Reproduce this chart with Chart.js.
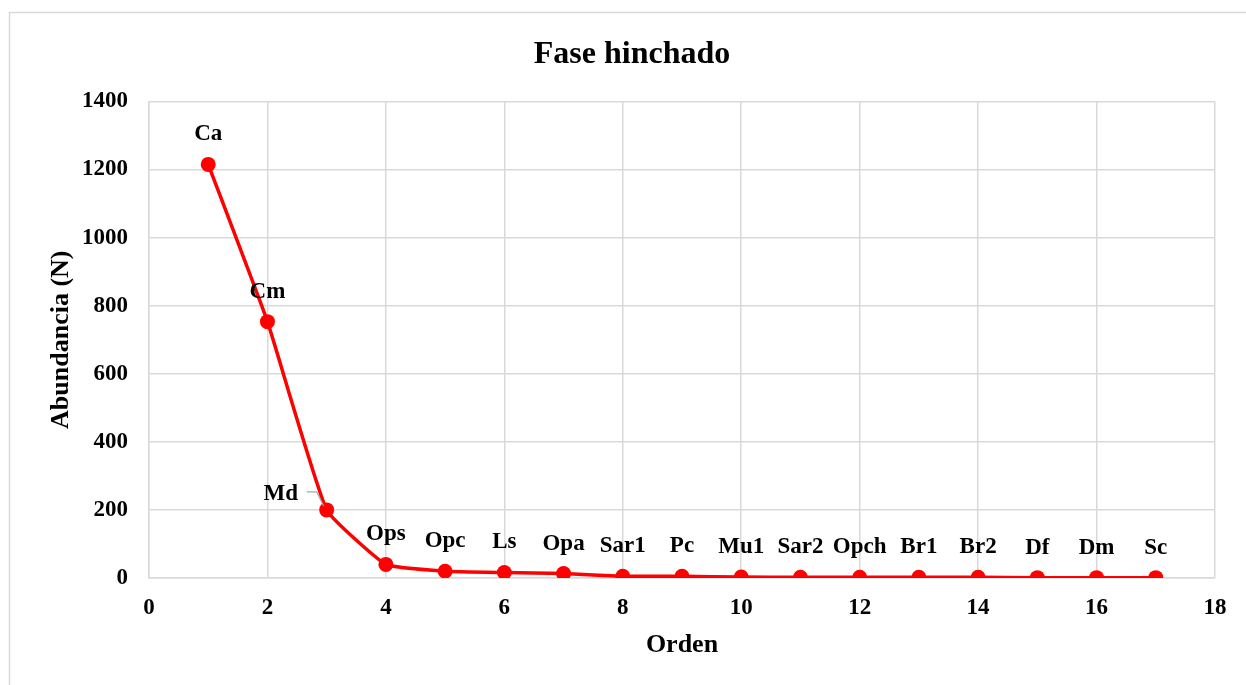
<!DOCTYPE html>
<html>
<head>
<meta charset="utf-8">
<script src="https://cdn.jsdelivr.net/npm/chart.js@4/dist/chart.umd.min.js"></script>
<style>
  html, body { margin: 0; padding: 0; background: #ffffff; }
  #wrap { width: 1246px; height: 685px; position: relative; }
</style>
</head>
<body>
<div id="wrap"><canvas id="grafico"></canvas></div>
<script>
// datos
const orden = [1, 2, 3, 4, 5, 6, 7, 8, 9, 10, 11, 12, 13, 14, 15, 16, 17];
const abundancia = [1215, 753, 200, 40, 20, 16, 13, 5, 5, 3, 2, 2, 2, 2, 1, 1, 1];
const especies = ["Ca", "Cm", "Md", "Ops", "Opc", "Ls", "Opa", "Sar1", "Pc", "Mu1",
  "Sar2", "Opch", "Br1", "Br2", "Df", "Dm", "Sc"];
const xMin = 0, xMax = 18, xPaso = 2;
const yMin = 0, yMax = 1400, yPaso = 200;

const ROJO = "#ff0000";
const GRIS_REJILLA = "#d9d9d9";
const FUENTE = "'Liberation Serif', 'Times New Roman', serif";

// borde exterior del area del grafico
const bordeExterior = {
  id: "bordeExterior",
  beforeDraw(chart) {
    const ctx = chart.ctx;
    ctx.save();
    ctx.fillStyle = "#ffffff";
    ctx.fillRect(0, 0, chart.width, chart.height);
    ctx.strokeStyle = GRIS_REJILLA;
    ctx.lineWidth = 1.5;
    ctx.beginPath();
    ctx.moveTo(9.5, chart.height + 5);
    ctx.lineTo(9.5, 12.5);
    ctx.lineTo(chart.width + 5, 12.5);
    ctx.stroke();
    ctx.restore();
  },
};

// etiquetas de especie encima de cada punto (Md a la izquierda con guia)
const etiquetas = {
  id: "etiquetas",
  afterDatasetsDraw(chart) {
    const ctx = chart.ctx;
    const meta = chart.getDatasetMeta(0);
    ctx.save();
    ctx.font = "bold 23px " + FUENTE;
    ctx.fillStyle = "#000000";
    ctx.textAlign = "center";
    ctx.textBaseline = "middle";
    meta.data.forEach((pt, i) => {
      if (especies[i] === "Md") {
        ctx.strokeStyle = "#a6a6a6";
        ctx.lineWidth = 1.2;
        ctx.beginPath();
        ctx.moveTo(pt.x - 20, pt.y - 18);
        ctx.lineTo(pt.x - 10, pt.y - 18);
        ctx.lineTo(pt.x - 3, pt.y - 4);
        ctx.stroke();
        ctx.fillText(especies[i], pt.x - 46, pt.y - 16);
      } else {
        ctx.fillText(especies[i], pt.x, pt.y - 30);
      }
    });
    ctx.restore();
  },
};

const puntos = orden.map((x, i) => ({ x: x, y: abundancia[i] }));

new Chart(document.getElementById("grafico").getContext("2d"), {
  type: "scatter",
  data: {
    datasets: [
      {
        label: "Abundancia",
        data: puntos,
        showLine: true,
        borderColor: ROJO,
        backgroundColor: ROJO,
        borderWidth: 3.5,
        pointRadius: 7.5,
        pointHoverRadius: 7.5,
        pointBorderWidth: 0,
        tension: 0.12,
      },
    ],
  },
  options: {
    responsive: true,
    maintainAspectRatio: false,
    animation: false,
    layout: { padding: { left: 49, right: 31, top: 0, bottom: 0 } },
    plugins: {
      legend: { display: false },
      tooltip: { enabled: false },
      title: {
        display: true,
        text: "Fase hinchado",
        color: "#000000",
        font: { family: FUENTE, size: 32, weight: "bold", lineHeight: 1.2 },
        padding: { top: 36, bottom: 27 },
      },
    },
    scales: {
      x: {
        type: "linear",
        min: xMin,
        max: xMax,
        afterFit: (scale) => { scale.height = 107; },
        ticks: {
          stepSize: xPaso,
          color: "#000000",
          padding: 16,
          font: { family: FUENTE, size: 23, weight: "bold" },
          callback: (v) => String(v),
        },
        grid: { color: GRIS_REJILLA, lineWidth: 1.5, drawTicks: false },
        border: { color: GRIS_REJILLA, width: 1.5 },
        title: {
          display: true,
          text: "Orden",
          color: "#000000",
          font: { family: FUENTE, size: 26, weight: "bold", lineHeight: 1.2 },
          padding: { top: 0, bottom: 24 },
        },
      },
      y: {
        type: "linear",
        min: yMin,
        max: yMax,
        afterFit: (scale) => { scale.width = 100; },
        ticks: {
          stepSize: yPaso,
          color: "#000000",
          padding: 21,
          font: { family: FUENTE, size: 23, weight: "bold" },
          callback: (v) => String(v),
        },
        grid: { color: GRIS_REJILLA, lineWidth: 1.5, drawTicks: false },
        border: { color: GRIS_REJILLA, width: 1.5 },
        title: {
          display: true,
          text: "Abundancia (N)",
          color: "#000000",
          font: { family: FUENTE, size: 26, weight: "bold", lineHeight: 1.2 },
          padding: { top: -3, bottom: 0 },
        },
      },
    },
  },
  plugins: [bordeExterior, etiquetas],
});
</script>
</body>
</html>
